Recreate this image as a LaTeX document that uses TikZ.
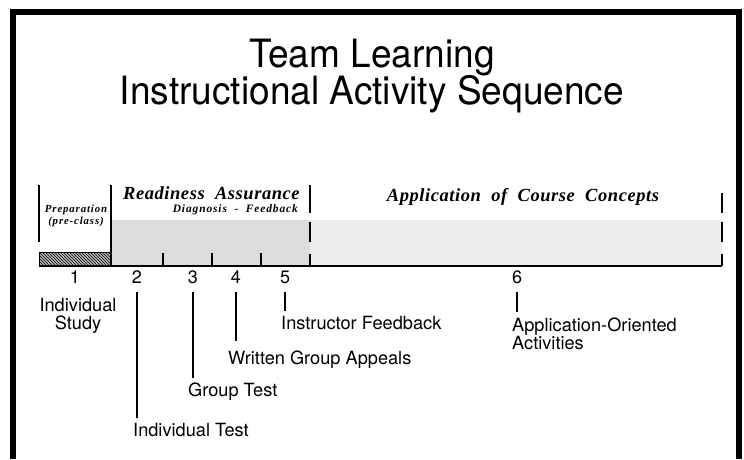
\documentclass[tikz,border=0pt]{standalone}
\usepackage{fontspec}
\setsansfont{TeX Gyre Heros}
\newfontfamily\titlefont{TeX Gyre Heros}[FakeStretch=0.95]
\newfontfamily\headfont{Liberation Serif}[LetterSpace=3]
\newfontfamily\subfont{Liberation Serif}[LetterSpace=8]
\usetikzlibrary{patterns}
\definecolor{shadeR}{HTML}{DCDCDC}
\definecolor{shadeA}{HTML}{EDEDED}
\definecolor{hatchbg}{HTML}{B8B8B8}

\begin{document}
\begin{tikzpicture}[x=1pt,y=-1pt,
    num/.style={font=\sffamily\fontsize{18}{18}\selectfont, inner sep=0pt},
    lbl/.style={font=\sffamily\fontsize{18.2}{18.5}\selectfont, inner sep=0pt, anchor=west, align=left},
    head/.style={font=\headfont\bfseries\itshape\fontsize{18.5}{20}\selectfont, inner sep=0pt},
    sub/.style={font=\subfont\bfseries\itshape\fontsize{10.8}{12}\selectfont, inner sep=0pt},
    sep/.style={line width=1.8pt},
    leader/.style={line width=1.1pt, shorten <=8pt}]
  \useasboundingbox (0,0) rectangle (744,459);
  % frame, open at the bottom
  \draw[line width=6pt] (13,459) -- (13,12) -- (739,12) -- (739,459);
  \node[font=\titlefont\fontsize{39}{39}\selectfont, anchor=base] (title) at (372,67) {Team Learning};
  \node[font=\titlefont\fontsize{39}{39}\selectfont, anchor=base] (subtitle) at (372,104) {Instructional Activity Sequence};

  % phases along the time line
  \fill[shadeR] (111,220) rectangle (310,266);
  \fill[shadeA] (310,220) rectangle (722,266);
  \fill[hatchbg] (39,252) rectangle (111,266);
  \fill[pattern=north west lines] (39,252) rectangle (111,266);
  \draw[line width=0.8pt] (39,252) rectangle (111,266);
  \draw[sep] (39,185) -- (39,242) (111,185) -- (111,266);
  \foreach \x/\t in {310/185, 722/193}
    \draw[sep] (\x,\t) -- (\x,213) (\x,222) -- (\x,242) (\x,254) -- (\x,266);
  \foreach \x in {163,212,261}
    \draw[line width=1.2pt] (\x,253) -- (\x,266);
  \draw[line width=1.5pt] (39,266) -- (722,266);

  \node[sub, align=center] (prep) at (76,216) {Preparation\\(pre-class)};
  \node[head, anchor=base west] (ready) at (123,199) {Readiness\ \ Assurance};
  \node[sub, anchor=base east, font=\subfont\bfseries\itshape\fontsize{11.4}{12}\selectfont] (diag) at (298,212) {Diagnosis\ \ -\ \ Feedback};
  \node[head, anchor=base] (apply) at (523,201) {Application\ \ of\ \ Course\ \ Concepts};

  % steps and what happens in each
  \foreach \i/\x in {1/75,2/137,3/193,4/236,5/285,6/517}
    \node[num] (n\i) at (\x,277) {\i};
  \node[lbl, anchor=center, align=center] (t1) at (78,316) {Individual\\Study};
  \node[lbl] (t2) at (133,430) {Individual Test};
  \node[lbl] (t3) at (188,392) {Group Test};
  \node[lbl] (t4) at (228,360) {Written Group Appeals};
  \node[lbl] (t5) at (281,323) {Instructor Feedback};
  \node[lbl] (t6) at (512,334) {Application-Oriented\\Activities};
  \foreach \i/\gap in {2/5,3/5,4/10,5/5,6/6}
    \draw[leader, shorten >=\gap pt] (n\i.south) -- (n\i.south |- t\i.north);
\end{tikzpicture}
\end{document}
